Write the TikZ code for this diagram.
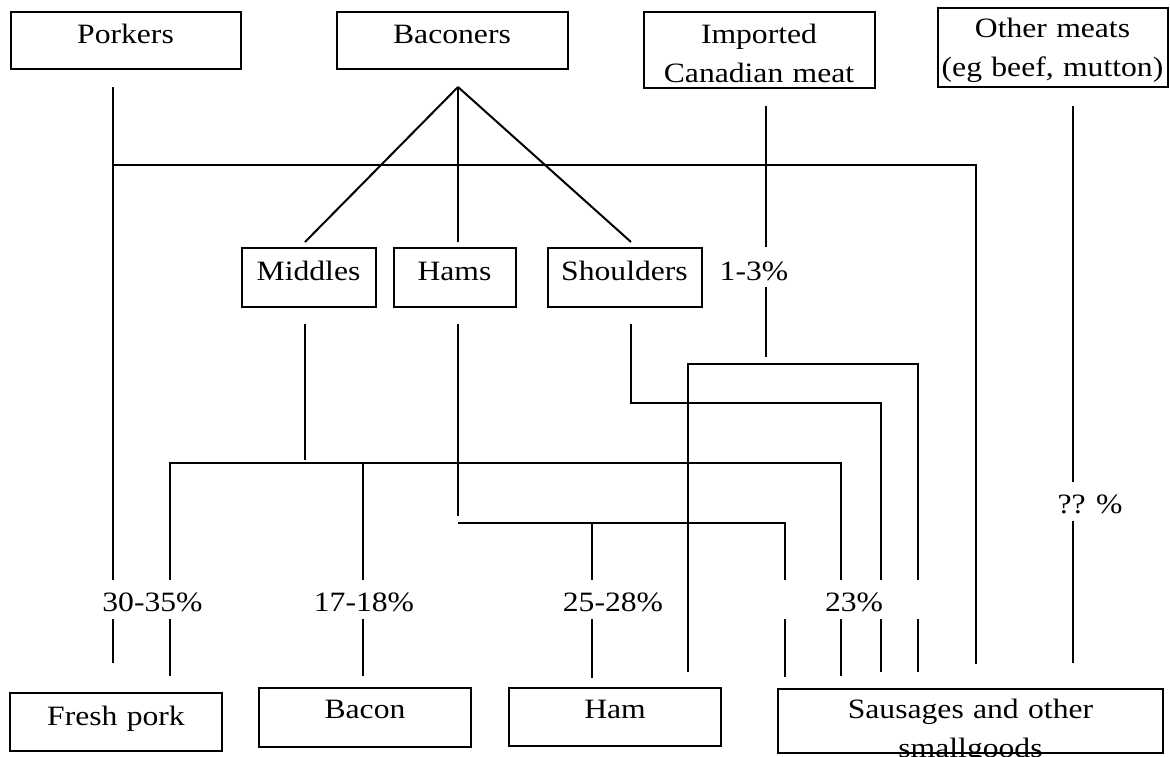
\documentclass[tikz,border=0pt]{standalone}
\usepackage{fontspec}
\setmainfont{Liberation Serif}[FakeStretch=1.13]
\usetikzlibrary{positioning}
\tikzstyle{bx}=[draw, inner sep=0pt, align=center, anchor=base, font=\fontsize{28}{39}\selectfont]
\tikzstyle{pc}=[inner sep=0pt, anchor=base, font=\fontsize{28}{39}\selectfont]

\begin{document}
\begin{tikzpicture}[x=1pt, y=-1pt, line width=2pt]
\useasboundingbox (0,0) rectangle (1170,756);
\clip (0,0) rectangle (1170,756);
%
  \node[bx, text width=230pt, text height=31pt, text depth=26pt] (pork) at (125.5,43) {Porkers};
  \node[bx, text width=231pt, text height=31pt, text depth=26pt] (bacn) at (452,43) {Baconers};
  \node[bx, text width=231pt, text height=31pt, text depth=45pt] (imp) at (759,43) {Imported\\Canadian meat};
  \node[bx, text width=230pt, text height=29pt, text depth=50pt] (oth) at (1052.5,37) {Other meats\\(eg beef, mutton)};
%
  \node[bx, text width=134pt, text height=32pt, text depth=27pt] (mid) at (308.5,280) {Middles};
  \node[bx, text width=122pt, text height=32pt, text depth=27pt, right=16pt of mid] (hams) {Hams};
  \node[bx, text width=154pt, text height=32pt, text depth=27pt, right=30pt of hams] (shl) {Shoulders};
%
  \node[bx, text width=212pt, text height=32pt, text depth=26pt] (frp) at (116,725) {Fresh pork};
  \node[bx, text width=212pt, text height=30pt, text depth=29pt] (bac) at (365,718) {Bacon};
  \node[bx, text width=212pt, text height=30pt, text depth=28pt] (ham) at (615,718) {Ham};
  \node[bx, text width=385pt, text height=29pt, text depth=35pt] (saus) at (970.5,718) {Sausages and other\\smallgoods};
%
  \node[pc] (p13) at (754,280) {1-3\%};
  \node[pc] (p30) at (152.5,611) {30-35\%};
  \node[pc] (p17) at (364,611) {17-18\%};
  \node[pc] (p25) at (613,611) {25-28\%};
  \node[pc] (p23) at (854,611) {23\%};
  \node[pc] (pqq) at (1090,513) {?? \%};
%
  \coordinate (pk0) at (113,87);
  \coordinate (pk1) at (113,165);
  \coordinate (pk2) at (113,580);
  \coordinate (pk3) at (113,619);
  \coordinate (pk4) at (113,663);
  \coordinate (pk5) at (976,165);
  \coordinate (pk6) at (976,664);
  \path[]
  (pk0) edge (pk2)
  (pk3) edge (pk4);
  \draw (pk1) -- (pk5) -- (pk6);
%
  \coordinate (bc0) at (458,87);
  \coordinate (bc1) at (305,242);
  \coordinate (bc2) at (458,242);
  \coordinate (bc3) at (631,242);
  \path[]
  (bc0) edge (bc1)
  (bc0) edge (bc2)
  (bc0) edge (bc3);
%
  \coordinate (im0) at (766,106);
  \coordinate (im1) at (766,247);
  \coordinate (im2) at (766,287);
  \coordinate (im3) at (766,357);
  \coordinate (im4) at (688,364);
  \coordinate (im5) at (918,364);
  \coordinate (im6) at (688,672);
  \coordinate (im7) at (918,580);
  \coordinate (im8) at (918,619);
  \coordinate (im9) at (918,672);
  \path[]
  (im0) edge (im1)
  (im2) edge (im3)
  (im8) edge (im9);
  \draw (im6) -- (im4) -- (im5) -- (im7);
%
  \coordinate (md0) at (305,324);
  \coordinate (md1) at (305,460);
  \coordinate (md2) at (170,463);
  \coordinate (md3) at (363,463);
  \coordinate (md4) at (841,463);
  \coordinate (md5) at (170,580);
  \coordinate (md6) at (170,619);
  \coordinate (md7) at (170,676);
  \coordinate (md8) at (363,580);
  \coordinate (md9) at (363,619);
  \coordinate (md10) at (363,676);
  \coordinate (md11) at (841,580);
  \coordinate (md12) at (841,619);
  \coordinate (md13) at (841,676);
  \path[]
  (md0) edge (md1)
  (md3) edge (md8)
  (md6) edge (md7)
  (md9) edge (md10)
  (md12) edge (md13);
  \draw (md5) -- (md2) -- (md4) -- (md11);
%
  \coordinate (hm0) at (458,324);
  \coordinate (hm1) at (458,516);
  \coordinate (hm2) at (458,523);
  \coordinate (hm3) at (592,523);
  \coordinate (hm4) at (785,523);
  \coordinate (hm5) at (592,580);
  \coordinate (hm6) at (592,619);
  \coordinate (hm7) at (592,678);
  \coordinate (hm8) at (785,580);
  \coordinate (hm9) at (785,619);
  \coordinate (hm10) at (785,677);
  \path[]
  (hm0) edge (hm1)
  (hm3) edge (hm5)
  (hm6) edge (hm7)
  (hm9) edge (hm10);
  \draw (hm2) -- (hm4) -- (hm8);
%
  \coordinate (sh0) at (631,324);
  \coordinate (sh1) at (631,403);
  \coordinate (sh2) at (881,403);
  \coordinate (sh3) at (881,580);
  \coordinate (sh4) at (881,619);
  \coordinate (sh5) at (881,672);
  \path[]
  (sh4) edge (sh5);
  \draw (sh0) -- (sh1) -- (sh2) -- (sh3);
%
  \coordinate (ot0) at (1073,106);
  \coordinate (ot1) at (1073,482);
  \coordinate (ot2) at (1073,521);
  \coordinate (ot3) at (1073,663);
  \path[]
  (ot0) edge (ot1)
  (ot2) edge (ot3);
\end{tikzpicture}
\end{document}
